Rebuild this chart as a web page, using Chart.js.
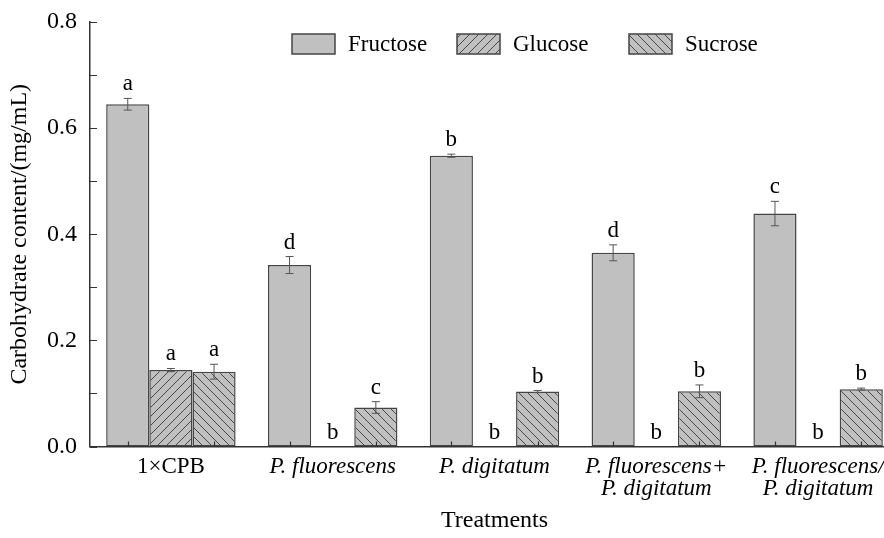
<!DOCTYPE html>
<html><head><meta charset="utf-8">
<script src="https://cdn.jsdelivr.net/npm/chart.js@4.4.0/dist/chart.umd.min.js"></script>
<style>html,body{margin:0;padding:0;overflow:hidden;background:#fff}</style>
</head><body>
<canvas id="c" width="910" height="538" style="width:910px;height:538px;display:block"></canvas>
<script>
const categories = [["1×CPB"], ["P. fluorescens"], ["P. digitatum"], ["P. fluorescens+", "P. digitatum"], ["P. fluorescens/", "P. digitatum"]];
const seriesNames = ["Fructose", "Glucose", "Sucrose"];
const fructose = [0.645, 0.342, 0.548, 0.365, 0.439];
const glucose = [0.144, 0, 0, 0, 0];
const sucrose = [0.141, 0.0735, 0.1035, 0.104, 0.108];
const fructoseErr = [0.011, 0.016, 0.003, 0.015, 0.023];
const glucoseErr = [0.003, 0, 0, 0, 0];
const sucroseErr = [0.014, 0.011, 0.002, 0.012, 0.002];
const fructoseLetters = ["a", "d", "b", "d", "c"];
const glucoseLetters = ["a", "b", "b", "b", "b"];
const sucroseLetters = ["a", "c", "b", "b", "b"];
const yMin = 0, yMax = 0.8, yStep = 0.2, yMinorStep = 0.1;

const FONT = "'Liberation Serif', 'Times New Roman', serif";
const canvas = document.getElementById('c');
const ctx = canvas.getContext('2d');

function hatch(dir) {
  const s = 9, c = document.createElement('canvas');
  c.width = s; c.height = s;
  const g = c.getContext('2d');
  g.fillStyle = '#c0c0c0'; g.fillRect(0, 0, s, s);
  g.strokeStyle = '#3a3a3a'; g.lineWidth = 0.9;
  g.beginPath();
  if (dir === '/') {
    g.moveTo(0, s); g.lineTo(s, 0);
    g.moveTo(-1, 1); g.lineTo(1, -1);
    g.moveTo(s - 1, s + 1); g.lineTo(s + 1, s - 1);
  } else {
    g.moveTo(0, 0); g.lineTo(s, s);
    g.moveTo(s - 1, -1); g.lineTo(s + 1, 1);
    g.moveTo(-1, s - 1); g.lineTo(1, s + 1);
  }
  g.stroke();
  return ctx.createPattern(c, 'repeat');
}

const fills = ['#c0c0c0', hatch('/'), hatch('\\')];
const errs = [fructoseErr, glucoseErr, sucroseErr];
const letters = [fructoseLetters, glucoseLetters, sucroseLetters];

const legendX = [292, 457, 629];

const decor = {
  id: 'decor',
  afterDatasetsDraw(chart) {
    const c = chart.ctx, y = chart.scales.y, area = chart.chartArea;
    c.save();
    chart.data.datasets.forEach((ds, di) => {
      const meta = chart.getDatasetMeta(di);
      meta.data.forEach((bar, i) => {
        const v = ds.data[i], e = errs[di][i];
        const x = bar.x;
        const yt = y.getPixelForValue(v + e), yb = y.getPixelForValue(v - e);
        if (e > 0) {
          c.strokeStyle = '#555'; c.lineWidth = 1;
          c.beginPath();
          c.moveTo(x, yt); c.lineTo(x, yb);
          c.moveTo(x - 4, yt); c.lineTo(x + 4, yt);
          c.moveTo(x - 4, yb); c.lineTo(x + 4, yb);
          c.stroke();
        }
        c.fillStyle = '#000';
        c.font = '23px ' + FONT;
        c.textAlign = 'center'; c.textBaseline = 'alphabetic';
        c.fillText(letters[di][i], x, yt - 8);
      });
    });
    c.strokeStyle = '#333'; c.lineWidth = 1.2;
    c.beginPath();
    for (let v = yMin; v <= yMax + 1e-9; v += yMinorStep) {
      const py = Math.round(y.getPixelForValue(v)) + 0.5;
      c.moveTo(area.left, py); c.lineTo(area.left + 7, py);
    }
    [0, 2].forEach(di => {
      chart.getDatasetMeta(di).data.forEach(bar => {
        const px = Math.round(bar.x) + 0.5;
        c.moveTo(px, area.bottom); c.lineTo(px, area.bottom - 5);
      });
    });
    c.stroke();
    c.restore();
  },
  afterDraw(chart) {
    const c = chart.ctx;
    c.save();
    chart.data.datasets.forEach((ds, di) => {
      const bx = legendX[di], by = 34, bw = 43, bh = 20;
      c.fillStyle = ds.backgroundColor;
      c.fillRect(bx, by, bw, bh);
      c.strokeStyle = '#444'; c.lineWidth = 1.5;
      c.strokeRect(bx, by, bw, bh);
      c.fillStyle = '#000';
      c.font = '23px ' + FONT;
      c.textAlign = 'left'; c.textBaseline = 'middle';
      c.fillText(ds.label, bx + bw + 13, by + bh / 2 + 1);
    });
    c.restore();
  }
};

const seriesData = [fructose, glucose, sucrose];
new Chart(ctx, {
  type: 'bar',
  data: {
    labels: categories,
    datasets: seriesNames.map((n, i) => ({
      label: n,
      data: seriesData[i],
      backgroundColor: fills[i],
      borderColor: '#444',
      borderWidth: (c) => (c.raw === 0 ? 0 : 1.5),
      borderSkipped: false,
      categoryPercentage: 0.8,
      barPercentage: 1.0
    }))
  },
  options: {
    responsive: false,
    animation: false,
    devicePixelRatio: 1,
    layout: { padding: { top: 22, right: 11, left: 0, bottom: 0 } },
    plugins: { legend: { display: false }, tooltip: { enabled: false } },
    scales: {
      x: {
        grid: { display: false, drawTicks: false, tickLength: 0 },
        border: { display: true, color: '#333', width: 1.5 },
        ticks: {
          autoSkip: false, maxRotation: 0, minRotation: 0, padding: 9, color: '#000',
          font: (c) => ({ family: FONT, size: 23, style: c.index === 0 ? 'normal' : 'italic', lineHeight: 0.96 })
        },
        title: { display: true, text: 'Treatments', color: '#000', font: { family: FONT, size: 24, lineHeight: 1.0 }, padding: { top: 4, bottom: 5 } },
        afterFit(s) { s.height = 91.5; s.paddingLeft = 0; s.paddingRight = 0; }
      },
      y: {
        min: yMin, max: yMax,
        grid: { display: false, drawTicks: false, tickLength: 0 },
        border: { display: true, color: '#333', width: 1.5 },
        ticks: { stepSize: yStep, padding: 13, color: '#000', font: { family: FONT, size: 24 }, callback: (v) => Number(v).toFixed(1) },
        title: { display: true, text: 'Carbohydrate content/(mg/mL)', color: '#000', font: { family: FONT, size: 24, lineHeight: 1.0 }, padding: { top: 8, bottom: 0 } },
        afterFit(s) { s.width = 90; s.paddingTop = 0; s.paddingBottom = 0; }
      }
    }
  },
  plugins: [decor]
});
</script>
</body></html>
